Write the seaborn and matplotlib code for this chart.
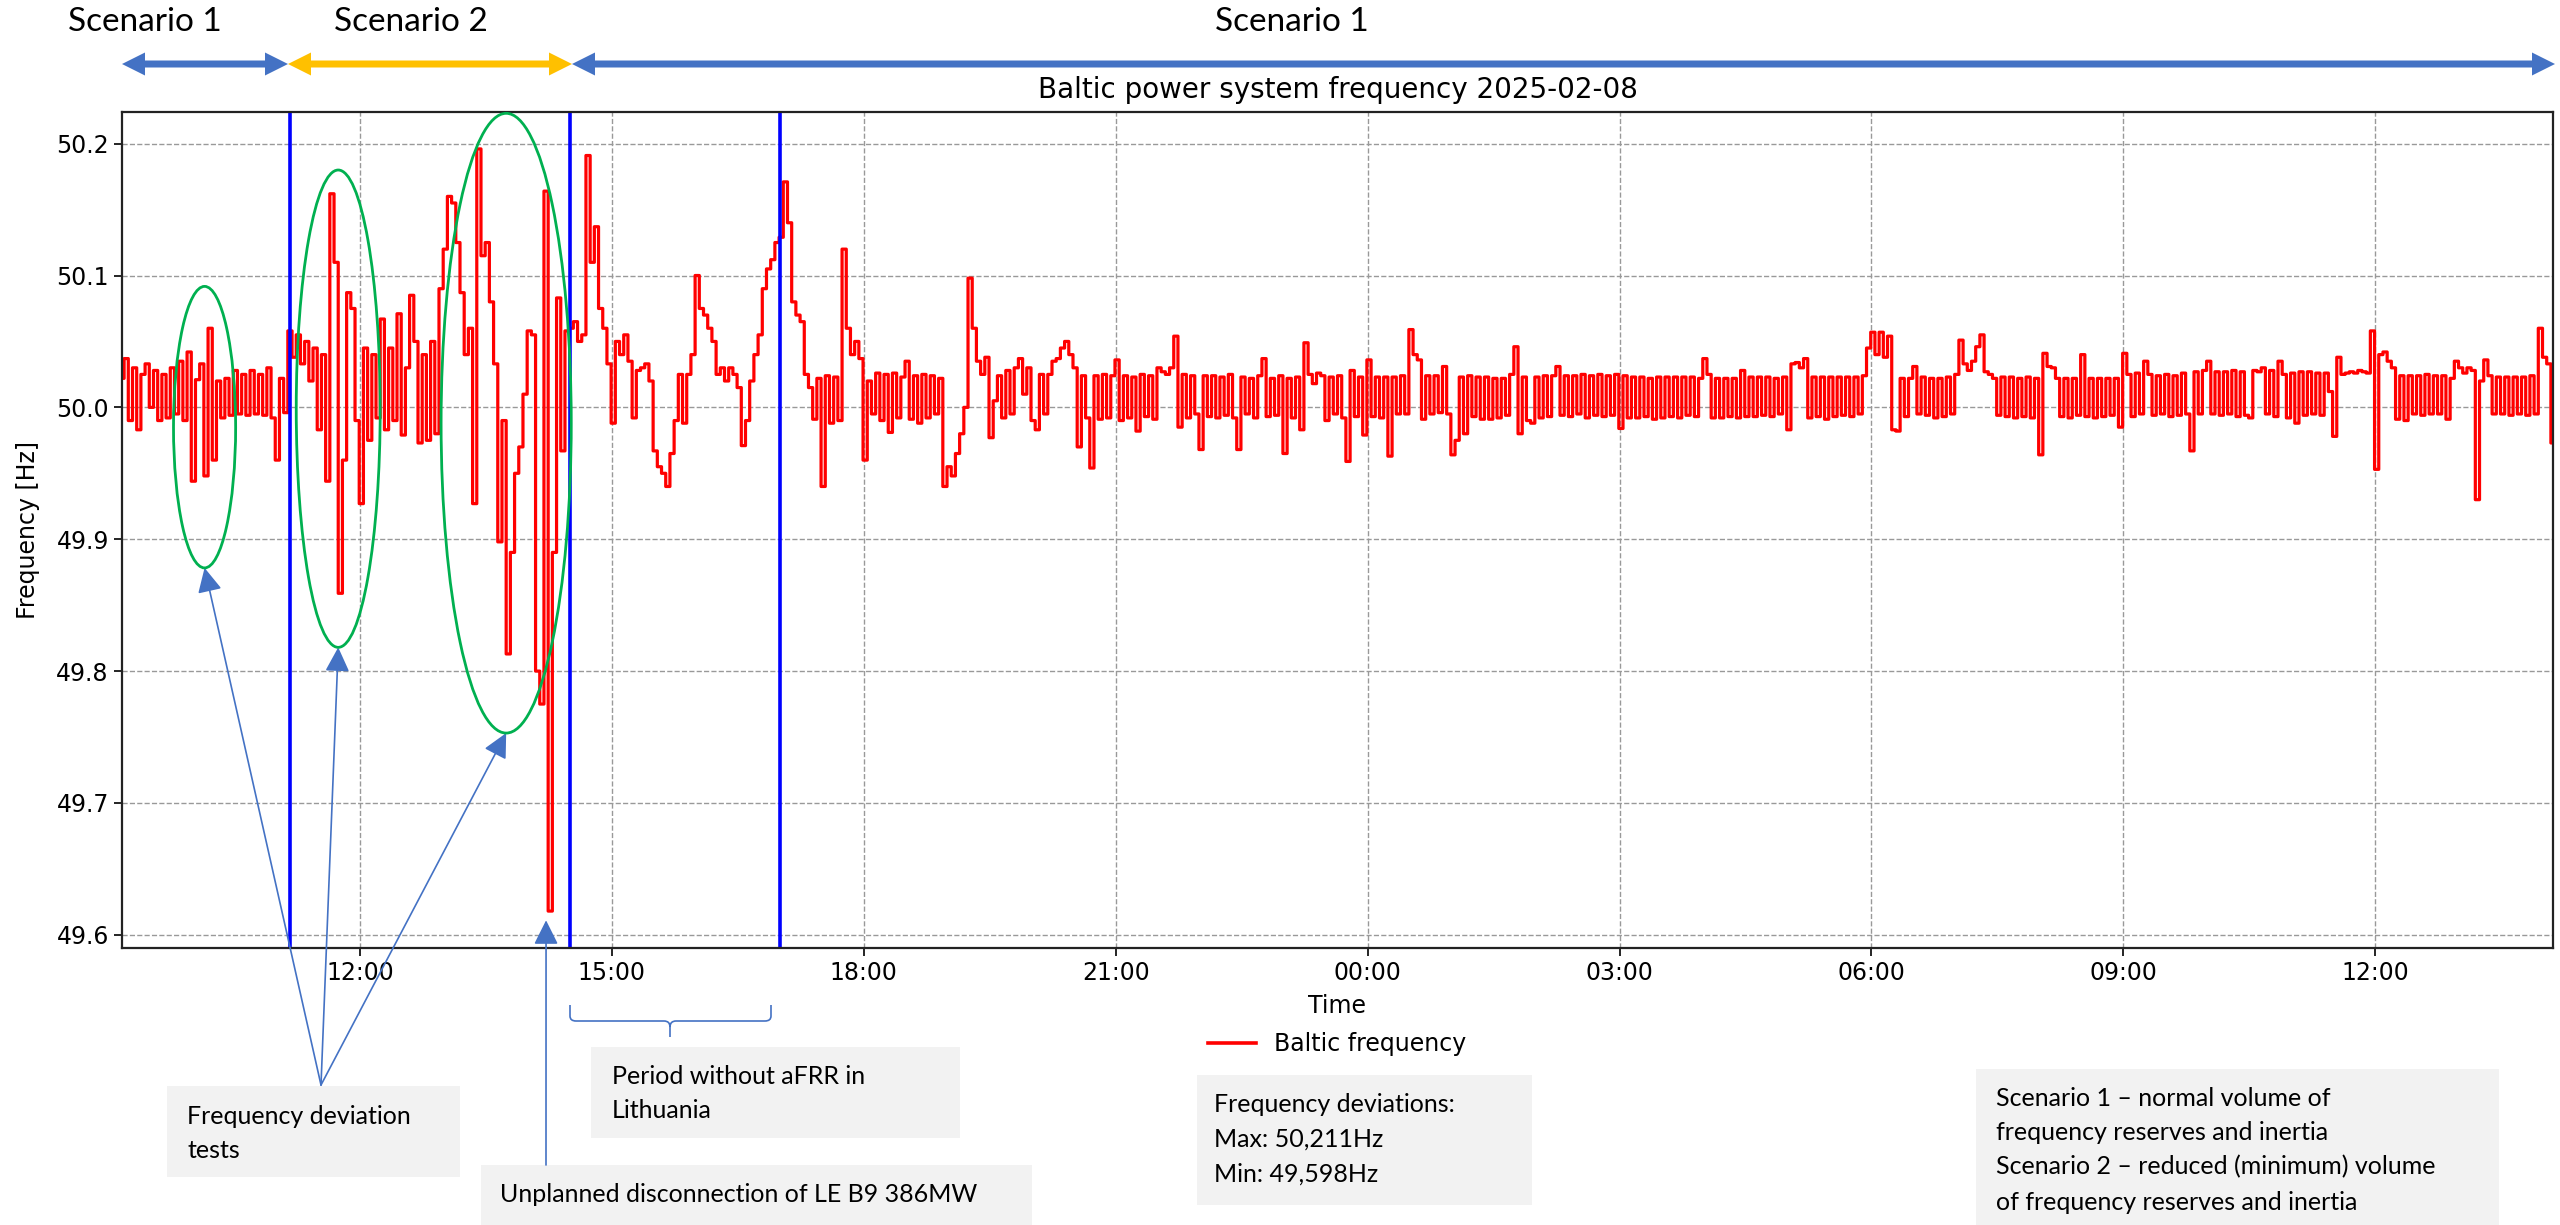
import pandas as pd
import seaborn as sb
import matplotlib.pyplot as plt
import matplotlib.dates as mdates
from matplotlib.patches import Ellipse, Polygon, Rectangle, PathPatch
from matplotlib.path import Path

# frequency deviation from 50 Hz in mHz, one reading every 3 minutes from 09:10
dev_0910 = [22, 37, -10, 30, -17, 25, 33, 0, 28, -10, 25, -8, 30, -5, 35, -10, 42, -56, 21, 33,
            -52, 60, -40, 20, -8, 22, -6, 28, -5, 25, -6, 28, -5, 25, -6, 30, -8, -40, 22, -4,
            58, 38, 55, 33, 50, 20, 45, -17, 40, -56, 162, 110, -141, -40, 87, 75, -10, -73, 45, -25,
            40, -8, 67, -17, 45, -10, 71, -21, 30, 85, 50, -27, 40, -25, 50, -20, 90, 120, 160, 155,
            125, 87, 40, 60, -73, 196, 115, 125, 80, 33, -102, -10, -187, -110, -50, -30, 10, 58, 55, -200]
dev_1410 = [-225, 164, -382, -110, 83, -33, 58, 60, 65, 50, 55, 191, 110, 137, 75, 60, 33, -12, 50, 40,
            55, 35, -8, 28, 30, 33, 20, -33, -45, -50, -60, -35, -10, 25, -12, 25, 40, 100, 75, 70,
            60, 50, 25, 30, 20, 30, 25, 15, -29, -10, 20, 40, 55, 90, 105, 112, 125, 129, 171, 140,
            80, 70, 65, 25, 15, -9, 22, -60, 24, -12, 23, -10, 120, 60, 40, 50, 37, -40, 20, -5,
            26, -10, 25, -19, 26, -8, 23, 35, -9, 24, -12, 25, -8, 24, -5, 22, -60, -45, -52, -35]
dev_1910 = [-20, 0, 98, 60, 35, 25, 38, -23, 5, 24, -8, 28, -5, 30, 37, 10, 30, -10, -17, 25,
            -5, 25, 35, 37, 45, 50, 40, 30, -30, 24, -8, -46, 24, -9, 25, -8, 24, 36, -10, 24,
            -8, 23, -18, 25, -7, 24, -9, 30, 27, 25, 30, 54, -15, 25, -8, 24, -5, -32, 24, -7,
            24, -8, 23, -6, 25, -8, -32, 23, -5, 22, -8, 24, 37, -7, 22, -6, 24, -35, 22, -8,
            23, -17, 49, 25, 18, 26, 24, -10, 23, -5, 24, -8, -41, 28, -7, 23, -21, 36, -7, 23]
dev_0010 = [-8, 23, -37, 23, -5, 24, -5, 59, 40, 36, -9, 24, -5, 24, -4, 31, -5, -36, -25, 23,
            -20, 24, -7, 23, -9, 23, -9, 22, -8, 22, -6, 25, 46, -20, 23, -10, -12, 23, -8, 24,
            -7, 24, 31, -6, 24, -7, 24, -5, 25, -8, 24, -6, 25, -7, 24, -6, 25, -16, 24, -8,
            23, -8, 23, -7, 22, -9, 23, -8, 23, -7, 23, -8, 23, -6, 23, -7, 22, 37, 25, -8,
            22, -8, 22, -7, 22, -8, 28, -7, 23, -7, 23, -6, 23, -7, 22, -5, 23, -17, 33, 34]
dev_0510 = [30, 37, -8, 23, -7, 23, -9, 23, -7, 23, -6, 23, -7, 23, -5, 24, 45, 57, 40, 57,
            38, 54, -17, -18, 22, -7, 22, 31, -5, 23, -6, 22, -8, 22, -7, 23, -5, 25, 51, 33,
            28, 35, 46, 55, 27, 25, 22, -6, 23, -7, 23, -8, 22, -7, 23, -8, 22, -36, 41, 31,
            30, 22, -7, 22, -8, 22, -6, 40, -7, 22, -8, 22, -7, 22, -6, 22, -15, 41, 25, -7,
            26, -5, 35, 25, -6, 24, -5, 25, -7, 24, -6, 26, -5, -33, 27, -5, 28, 35, -5, 27]
dev_1010 = [-6, 27, -5, 28, -7, 27, -6, -8, 28, 27, 30, -5, 28, -7, 35, 25, -8, 26, -12, 27,
            -6, 27, -5, 26, -6, 26, 12, -22, 38, 25, 26, 27, 26, 28, 27, 26, 58, -47, 40, 42,
            35, 30, -9, 24, -10, 24, -5, 24, -6, 25, -5, 24, -5, 24, -9, 22, 35, 30, 26, 30,
            28, -70, 20, 36, 24, -5, 23, -5, 23, -6, 23, -5, 23, -6, 24, -5, 60, 38, 33, -27]

start = "2025-02-08 09:10"
scenario_lines = ["2025-02-08 11:10", "2025-02-08 14:30", "2025-02-08 17:00"]

# test ellipses: centre time, centre freq, width (hours), height (Hz)
ellipses = [("2025-02-08 10:09", 49.985, 0.74, 0.2135),
            ("2025-02-08 11:44:30", 49.999, 1.0, 0.362),
            ("2025-02-08 13:44:30", 49.988, 1.55, 0.470)]
trip_time = "2025-02-08 14:13"

dev = dev_0910 + dev_1410 + dev_1910 + dev_0010 + dev_0510 + dev_1010
df = pd.DataFrame({"Time": pd.date_range(start, periods=len(dev), freq="3min"),
                   "Frequency": [50 + d / 1000 for d in dev]})

W, H = 2560, 1225
fig = plt.figure(figsize=(W / 100, H / 100), dpi=100)
ax = fig.add_axes([122 / W, 1 - 948 / H, (2553 - 122) / W, (948 - 112) / H])

sb.lineplot(data=df, x="Time", y="Frequency", color="red", lw=2.3,
            drawstyle="steps-mid", label="Baltic frequency", ax=ax)

for t in scenario_lines:
    ax.axvline(pd.Timestamp(t), color="blue", lw=2.6)

for t, f, w, h in ellipses:
    ax.add_patch(Ellipse((mdates.date2num(pd.Timestamp(t)), f), w / 24, h,
                         fill=False, ec="#00B050", lw=2, clip_on=False, zorder=4))

ax.set_xlim(df["Time"].iloc[0], df["Time"].iloc[-1])
ax.set_ylim(49.590, 50.224)
ax.xaxis.set_major_locator(mdates.HourLocator(byhour=range(0, 24, 3)))
ax.xaxis.set_major_formatter(mdates.DateFormatter("%H:%M"))
ax.grid(True, ls="--", color="#999999", lw=1)
ax.tick_params(labelsize=17, length=6, width=1.2)
for s in ax.spines.values():
    s.set_linewidth(1.6)
    s.set_color("#222222")

ax.set_title("Baltic power system frequency 2025-02-08", fontsize=20, pad=10)
ax.set_xlabel("Time", fontsize=17, labelpad=6)
ax.set_ylabel("Frequency [Hz]", fontsize=17, labelpad=12)
leg = ax.legend(loc="upper center", bbox_to_anchor=(0.5, -0.075), frameon=False, fontsize=17)
for line in leg.get_lines():
    line.set_linewidth(2.6)

# ---- presentation overlay (figure pixels, y from top) ----
blue_a = "#4472C4"
font = ["Lato", "DejaVu Sans"]


def px(x, y):
    return (x / W, 1 - y / H)


def ftext(x, y, s, size=18, **kw):
    fig.text(x / W, 1 - y / H, s, fontsize=size, family=font, va="center", **kw)


def double_arrow(x0, x1, y, color):
    hl, hw, sw = 23, 11.5, 3.5
    pts = [(x0, y), (x0 + hl, y - hw), (x0 + hl, y - sw), (x1 - hl, y - sw),
           (x1 - hl, y - hw), (x1, y), (x1 - hl, y + hw), (x1 - hl, y + sw),
           (x0 + hl, y + sw), (x0 + hl, y + hw)]
    fig.add_artist(Polygon([px(*p) for p in pts], closed=True, fc=color, ec="none",
                           transform=fig.transFigure))


def box(x0, y0, x1, y1):
    fig.add_artist(Rectangle(px(x0, y1), (x1 - x0) / W, (y1 - y0) / H, fc="#F2F2F2",
                             ec="none", transform=fig.transFigure, zorder=0))


double_arrow(122, 288, 64, blue_a)
double_arrow(288, 572, 64, "#FFC000")
double_arrow(572, 2555, 64, blue_a)
ftext(145, 22, "Scenario 1", size=24, ha="center")
ftext(411, 22, "Scenario 2", size=24, ha="center")
ftext(1292, 22, "Scenario 1", size=24, ha="center")

# arrows from the tests box to the ellipses
arrow_props = dict(arrowstyle="-|>,head_length=0.6,head_width=0.3", color=blue_a,
                   lw=1.2, shrinkA=0, shrinkB=0, mutation_scale=25)
for t, f, w, h in ellipses:
    ax.annotate("", xy=(mdates.date2num(pd.Timestamp(t)), f - h / 2), xycoords="data",
                xytext=(321, H - 1085), textcoords="figure pixels", arrowprops=arrow_props)
ax.annotate("", xy=(mdates.date2num(pd.Timestamp(trip_time)), 49.611), xycoords="data",
            xytext=(546, H - 1165), textcoords="figure pixels", arrowprops=arrow_props)

# brace under the period without aFRR
verts = [(570, 1005), (570, 1016), (570, 1021), (576, 1021), (664, 1021), (670, 1021),
         (670, 1027), (670, 1037),
         (771, 1005), (771, 1016), (771, 1021), (765, 1021), (676, 1021), (670, 1021), (670, 1027)]
codes = [Path.MOVETO, Path.LINETO, Path.CURVE3, Path.CURVE3, Path.LINETO, Path.CURVE3,
         Path.CURVE3, Path.LINETO,
         Path.MOVETO, Path.LINETO, Path.CURVE3, Path.CURVE3, Path.LINETO, Path.CURVE3, Path.CURVE3]
fig.add_artist(PathPatch(Path([px(*v) for v in verts], codes), fill=False, ec=blue_a,
                         lw=1.2, transform=fig.transFigure))

box(167, 1086, 460, 1177)
ftext(187, 1116, "Frequency deviation")
ftext(187, 1151, "tests")

box(591, 1047, 960, 1138)
ftext(612, 1076, "Period without aFRR in")
ftext(612, 1111, "Lithuania")

box(481, 1165, 1032, 1225)
ftext(500, 1195, "Unplanned disconnection of LE B9 386MW")

box(1197, 1075, 1532, 1205)
ftext(1214, 1105, "Frequency deviations:")
ftext(1214, 1139, "Max: 50,211Hz")
ftext(1214, 1174, "Min: 49,598Hz")

box(1976, 1069, 2499, 1225)
ftext(1996, 1098, "Scenario 1 \u2013 normal volume of")
ftext(1996, 1133, "frequency reserves and inertia")
ftext(1996, 1167, "Scenario 2 \u2013 reduced (minimum) volume")
ftext(1996, 1203, "of frequency reserves and inertia")

fig.savefig("out.png", dpi=100)
